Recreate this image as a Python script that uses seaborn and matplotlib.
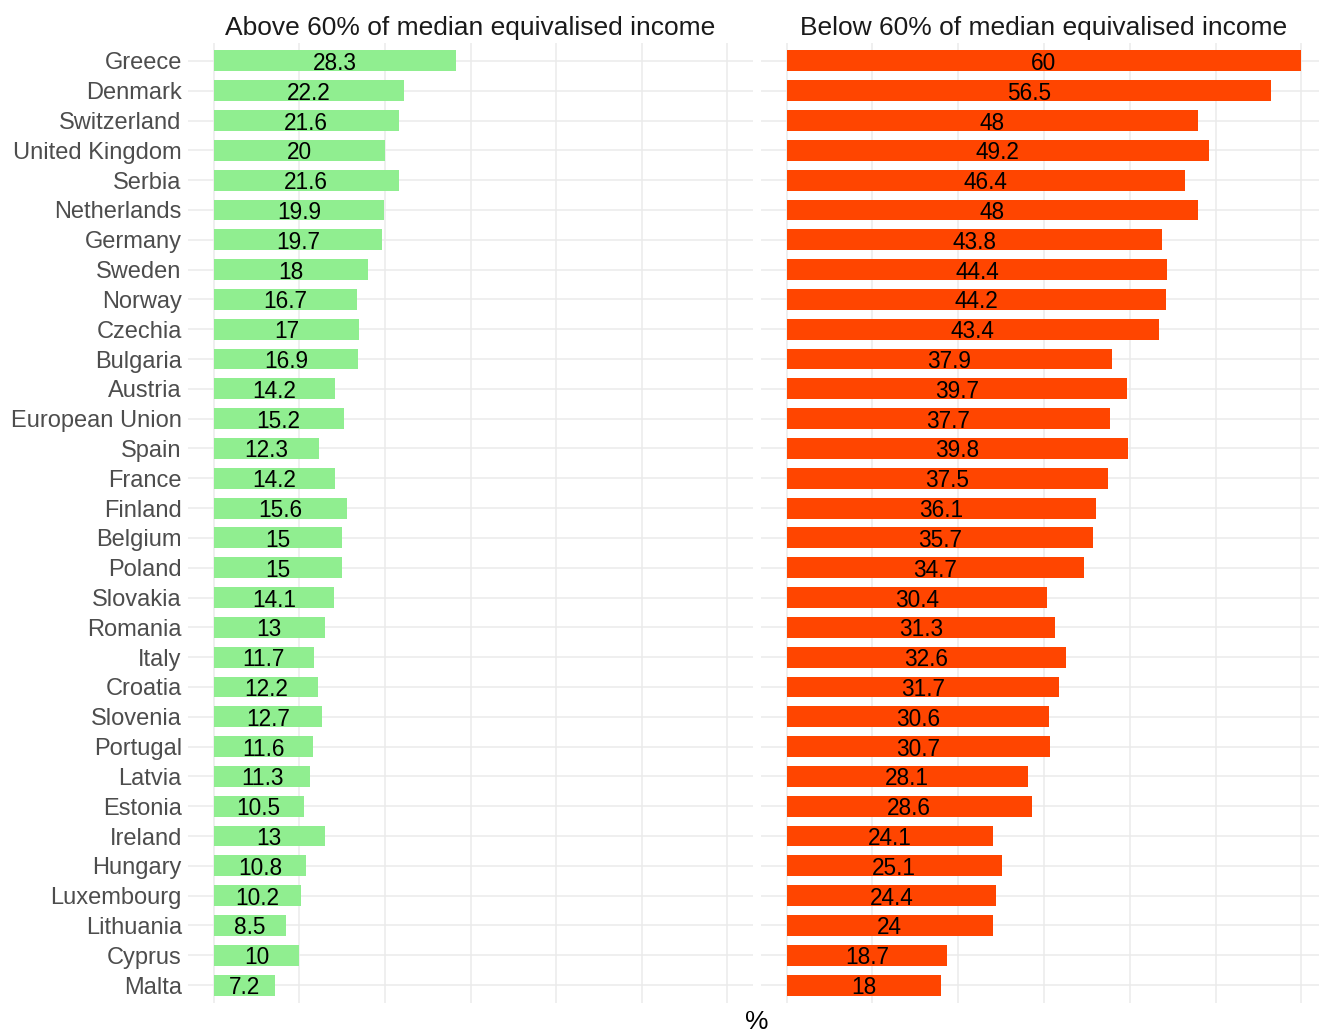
import matplotlib.pyplot as plt
import pandas as pd
import seaborn as sns

countries = ['Greece', 'Denmark', 'Switzerland', 'United Kingdom', 'Serbia',
             'Netherlands', 'Germany', 'Sweden', 'Norway', 'Czechia', 'Bulgaria',
             'Austria', 'European Union', 'Spain', 'France', 'Finland', 'Belgium',
             'Poland', 'Slovakia', 'Romania', 'Italy', 'Croatia', 'Slovenia',
             'Portugal', 'Latvia', 'Estonia', 'Ireland', 'Hungary', 'Luxembourg',
             'Lithuania', 'Cyprus', 'Malta']
above = [28.3, 22.2, 21.6, 20, 21.6, 19.9, 19.7, 18, 16.7, 17, 16.9, 14.2, 15.2,
         12.3, 14.2, 15.6, 15, 15, 14.1, 13, 11.7, 12.2, 12.7, 11.6, 11.3, 10.5,
         13, 10.8, 10.2, 8.5, 10, 7.2]
below = [60, 56.5, 48, 49.2, 46.4, 48, 43.8, 44.4, 44.2, 43.4, 37.9, 39.7, 37.7,
         39.8, 37.5, 36.1, 35.7, 34.7, 30.4, 31.3, 32.6, 31.7, 30.6, 30.7, 28.1,
         28.6, 24.1, 25.1, 24.4, 24, 18.7, 18]
titles = ['Above 60% of median equivalised income',
          'Below 60% of median equivalised income']
colors = ['#90EE90', '#FF4500']

df = pd.DataFrame({'country': countries, 'above': above, 'below': below})

sns.set_style('white')
plt.rcParams['font.family'] = ['Liberation Sans', 'DejaVu Sans']

W, H = 1319, 1031
fig = plt.figure(figsize=(W / 100, H / 100), dpi=100)
top, bottom = 43, 1003
panels = [(188, 565), (761, 566)]

n = len(countries)
for i, (col, title, colr) in enumerate(zip(['above', 'below'], titles, colors)):
    x0, w = panels[i]
    ax = fig.add_axes([x0 / W, (H - bottom) / H, w / W, (bottom - top) / H])
    sns.barplot(data=df, x=col, y='country', order=countries, orient='h',
                color=colr, saturation=1, width=0.7, linewidth=0, ax=ax, zorder=2)
    txts = ax.bar_label(ax.containers[0], labels=[f'{v:g}' for v in df[col]],
                        label_type='center', fontsize=16.3, color='black')
    for t in txts:
        t.set_va('center_baseline')
    ax.set_xlim(-3, 63)
    ax.set_ylim(n - 1 + 0.6, -0.6)
    ax.set_xticks(range(0, 61, 10))
    ax.set_xticklabels([])
    ax.grid(True, color='#ebebeb', linewidth=1.1)
    ax.set_axisbelow(True)
    for s in ax.spines.values():
        s.set_visible(False)
    ax.tick_params(length=0, pad=4.5)
    ax.set_xlabel('')
    ax.set_ylabel('')
    if i == 0:
        ax.tick_params(axis='y', labelsize=17, labelcolor='#4d4d4d')
    else:
        ax.set_yticklabels([])
    ax.set_title(title, fontsize=19, color='#1a1a1a', pad=5.5)

fig.text(757 / W, 1 - 1022 / H, '%', fontsize=19, ha='center', va='center',
         color='black')

plt.savefig('out.png', dpi=100)
